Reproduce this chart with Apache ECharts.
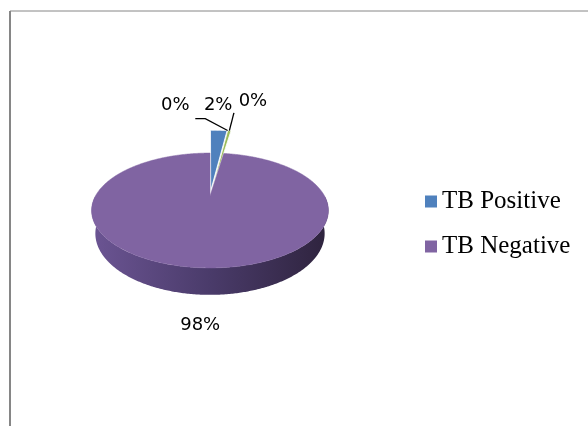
<!DOCTYPE html>
<html>
<head>
<meta charset="utf-8">
<script src="https://cdn.jsdelivr.net/npm/echarts@6/dist/echarts.min.js"></script>
<style>
html, body { margin: 0; padding: 0; background: #fff; }
#main { width: 588px; height: 426px; }
</style>
</head>
<body>
<div id="main"></div>
<script>
// slice data, in Excel order (clockwise from 12 o'clock)
var sliceNames = ['TB Positive', 'Other', 'Unknown', 'TB Negative'];
var sliceValues = [2.0, 0, 0.4, 97.6];
var sliceColors = ['#4F81BD', '#C0504D', '#9BBB59', '#8064A2'];
var legendNames = ['TB Positive', 'TB Negative'];
var legendColors = ['#4F81BD', '#8064A2'];

// style: which slices are pulled out, and label nudges for the crowded ones
var explodeFlags = [1, 1, 1, 0];
var labelNudge = [[0, 0], [-51, 0], [25, -5], [0, 1]];

// 3d view
var CX = 210, CY = 196, F = 401, D = 3.5, PHI = 28 * Math.PI / 180, H = 0.229;

var total = sliceValues.reduce(function (a, b) { return a + b; }, 0);
var sliceAngles = [];
var acc = 0;
for (var k = 0; k < sliceValues.length; k++) {
    sliceAngles.push([acc / total * 2 * Math.PI, (acc + sliceValues[k]) / total * 2 * Math.PI]);
    acc += sliceValues[k];
}

function project(x, y, z) {
    var sp = Math.sin(PHI), cp = Math.cos(PHI);
    var depth = D - (y * sp + z * cp);
    var u = y * cp - z * sp;
    return [CX + F * x / depth, CY - F * u / depth];
}
function rim(theta, r, y, off) {
    return project(off[0] + r * Math.sin(theta), y, off[1] - r * Math.cos(theta));
}
function arc(a0, a1, r, y, off) {
    var n = Math.max(2, Math.ceil((a1 - a0) / 0.01));
    var pts = [];
    for (var j = 0; j <= n; j++) {
        pts.push(rim(a0 + (a1 - a0) * j / n, r, y, off));
    }
    return pts;
}

function renderSlice(params, api) {
    var i = params.dataIndex;
    var v = api.value(0);
    var a0 = sliceAngles[i][0], a1 = sliceAngles[i][1];
    var mid = (a0 + a1) / 2;
    var ex = explodeFlags[i] ? 0.1 : 0;
    var rs = explodeFlags[i] ? 1.67 : 1;
    var off = [ex * Math.sin(mid), -ex * Math.cos(mid)];
    var children = [];
    if (v > 0) {
        // outer wall, only the front part can be seen
        var s0 = Math.max(a0, Math.PI / 2), s1 = Math.min(a1, 1.5 * Math.PI);
        if (s1 > s0) {
            var side = arc(s0, s1, rs, 0, off).concat(arc(s0, s1, rs, -H, off).reverse());
            children.push({
                type: 'polygon',
                z2: 1,
                shape: { points: side },
                style: {
                    fill: new echarts.graphic.LinearGradient(90, 0, 330, 0, [
                        { offset: 0, color: '#6c5594' },
                        { offset: 0.5, color: '#4a3b6a' },
                        { offset: 1, color: '#2e233d' }
                    ], true)
                }
            });
        }
        var top = [project(off[0], 0, off[1])].concat(arc(a0, a1, rs, 0, off));
        children.push({
            type: 'polygon',
            z2: 10,
            shape: { points: top },
            style: {
                fill: sliceColors[i],
                stroke: explodeFlags[i] ? '#fff' : sliceColors[i],
                lineWidth: explodeFlags[i] ? 0.8 : 0.5
            }
        });
    }
    // data label
    var c = Math.cos(mid);
    var lx = CX + 130 * Math.sin(mid) + labelNudge[i][0];
    var ly = (c >= 0 ? CY - 91 * c : CY - 129 * c) + labelNudge[i][1];
    children.push({
        type: 'text',
        z2: 20,
        x: lx,
        y: ly,
        style: {
            text: Math.round(v / total * 100) + '%',
            fontFamily: 'DejaVu Sans',
            fontSize: 18,
            fill: '#000',
            align: 'center',
            verticalAlign: 'middle'
        }
    });
    // leader lines for the nudged labels
    if (labelNudge[i][0] !== 0) {
        var anchor = rim(mid, 1.67, 0, [0.1 * Math.sin(mid), -0.1 * Math.cos(mid)]);
        var lead;
        if (labelNudge[i][0] < 0) {
            lead = [[lx + 20, ly + 13], [lx + 30, ly + 13], anchor];
        } else {
            lead = [[lx - 19, ly + 12], anchor];
        }
        children.push({
            type: 'polyline',
            z2: 20,
            shape: { points: lead },
            style: { stroke: '#000', lineWidth: 1.3, fill: null }
        });
    }
    return { type: 'group', children: children };
}

var seriesList = [{
    type: 'custom',
    name: 'pie3d',
    coordinateSystem: 'none',
    renderItem: renderSlice,
    data: sliceValues.map(function (v, i) { return { name: sliceNames[i], value: [v] }; })
}];
for (var m = 0; m < legendNames.length; m++) {
    seriesList.push({
        type: 'custom',
        name: legendNames[m],
        coordinateSystem: 'none',
        itemStyle: { color: legendColors[m] },
        renderItem: function () { return null; },
        data: []
    });
}

var option = {
    animation: false,
    backgroundColor: '#fff',
    legend: {
        orient: 'vertical',
        left: 425,
        top: 189,
        padding: 0,
        icon: 'rect',
        itemWidth: 12,
        itemHeight: 12,
        itemGap: 20,
        data: legendNames,
        textStyle: {
            fontFamily: 'Liberation Serif',
            fontSize: 25,
            color: '#000'
        }
    },
    graphic: [
        { type: 'line', shape: { x1: 10, y1: 11, x2: 588, y2: 11 }, style: { stroke: '#868686', lineWidth: 1 } },
        { type: 'line', shape: { x1: 10, y1: 11, x2: 10, y2: 426 }, style: { stroke: '#868686', lineWidth: 2 } }
    ],
    series: seriesList
};

var chart = echarts.init(document.getElementById('main'));
chart.setOption(option, true);
</script>
</body>
</html>
